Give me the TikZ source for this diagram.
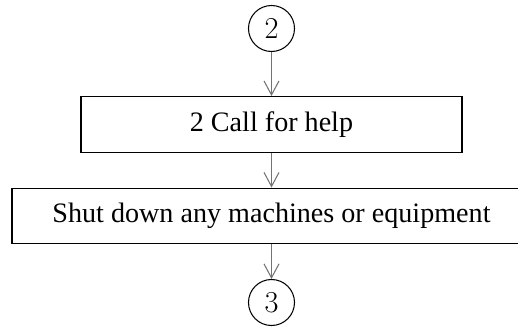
\documentclass[tikz,border=0pt]{standalone}
\usepackage{fontspec}
\setmainfont{Liberation Serif}
\usetikzlibrary{arrows.meta}
\tikzset{
  connector/.style={circle, draw, line width=0.6pt, minimum size=0.92cm, inner sep=0pt,
    font=\fontsize{18}{20}\selectfont},
  stepbox/.style={rectangle, draw, line width=0.8pt, inner sep=0pt, minimum height=1.11cm,
    font=\fontsize{16}{19}\selectfont},
  flow/.style={draw=black!55, line width=0.6pt, -{Straight Barb[length=0.28cm,width=0.3cm]}}
}

\begin{document}
\begin{tikzpicture}
        \useasboundingbox (0cm, 0cm) rectangle (10.36cm, 6.52cm);
        \node (c2) [connector] at (5.43cm, 5.95cm) {$2$};
        \node (s1) [stepbox, minimum width=7.62cm] at (5.43cm, 4.03cm) {2 Call for help};
        \node (s2) [stepbox, minimum width=10.38cm] at (5.43cm, 2.20cm) {Shut down any machines or equipment};
        \node (c3) [connector] at (5.43cm, 0.47cm) {$3$};
        \draw (c2) edge [flow] (s1);
        \draw (s1) edge [flow] (s2);
        \draw (s2) edge [flow] (c3);
\end{tikzpicture}
\end{document}
